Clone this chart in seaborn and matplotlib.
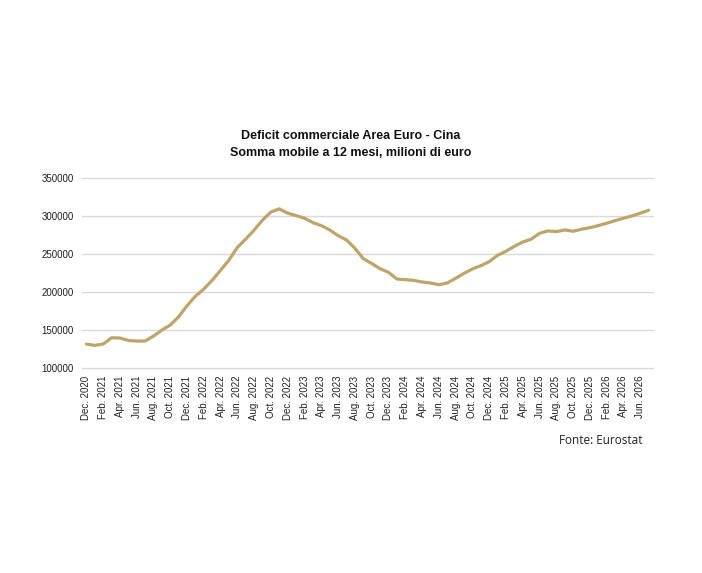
import matplotlib
matplotlib.use('Agg')
import matplotlib.pyplot as plt
import seaborn as sns
import pandas as pd

# monthly rolling 12-month deficit, Dec. 2020 onwards (millions of euro)
deficit = [132000, 130300, 132000, 140300, 140000, 136800, 136000, 136000,
           142500, 150400, 157000, 168000, 182400, 195000, 204300, 216000,
           229000, 242500, 259200, 270000, 282000, 295000, 305700, 309700,
           304000, 300800, 297400, 291600, 287700, 282000, 274500, 268800,
           258000, 244200, 238000, 231000, 226300, 217500, 216600, 215800,
           213600, 212300, 210000, 212300, 218400, 225000, 230700, 235000,
           240300, 248700, 254000, 260500, 266200, 269800, 277600, 280700,
           279800, 282000, 280300, 282900, 285000, 287700, 290800, 294200,
           297400, 300400, 304000, 307900]
months = list(pd.date_range('2020-12-01', periods=len(deficit), freq='MS').strftime('%b. %Y'))
yticks = [100000, 150000, 200000, 250000, 300000, 350000]

data = pd.DataFrame({'idx': range(len(deficit)), 'deficit': deficit})

sns.set_style('white')
plt.rcParams['font.family'] = ['Liberation Sans', 'DejaVu Sans']

fig = plt.figure(figsize=(7.02, 5.73), dpi=100)
ax = fig.add_axes([0.117, 0.357, 0.813, 0.332])

sns.lineplot(data=data, x='idx', y='deficit', ax=ax, color='#BFA46A', linewidth=2.3)

ax.set_xlim(-0.5, len(deficit) - 0.5)
ax.set_ylim(100000, 350000)
ax.set_yticks(yticks)
ax.set_yticklabels([str(v) for v in yticks], fontsize=7, color='#222222')
ax.set_xticks(range(0, len(deficit), 2))
ax.set_xticklabels(months[::2], rotation=90, fontsize=7, color='#222222')
ax.tick_params(axis='y', length=0, pad=6)
ax.tick_params(axis='x', length=0, pad=5)
ax.grid(axis='y', color='#D9D9D9', linewidth=1)
for gl in ax.get_ygridlines():
    gl.set_clip_on(False)
ax.set_axisbelow(True)
for s in ax.spines.values():
    s.set_visible(False)
ax.set_xlabel('')
ax.set_ylabel('')

fig.text(0.499, 0.748, 'Deficit commerciale Area Euro - Cina\nSomma mobile a 12 mesi, milioni di euro',
         ha='center', va='center', fontsize=9, fontweight='bold', linespacing=1.5,
         color='#111111')
fig.text(0.915, 0.232, 'Fonte: Eurostat', ha='right', va='center', fontsize=8.5,
         family=['Open Sans', 'DejaVu Sans'], color='#222222')

fig.savefig('out.png', dpi=100)
